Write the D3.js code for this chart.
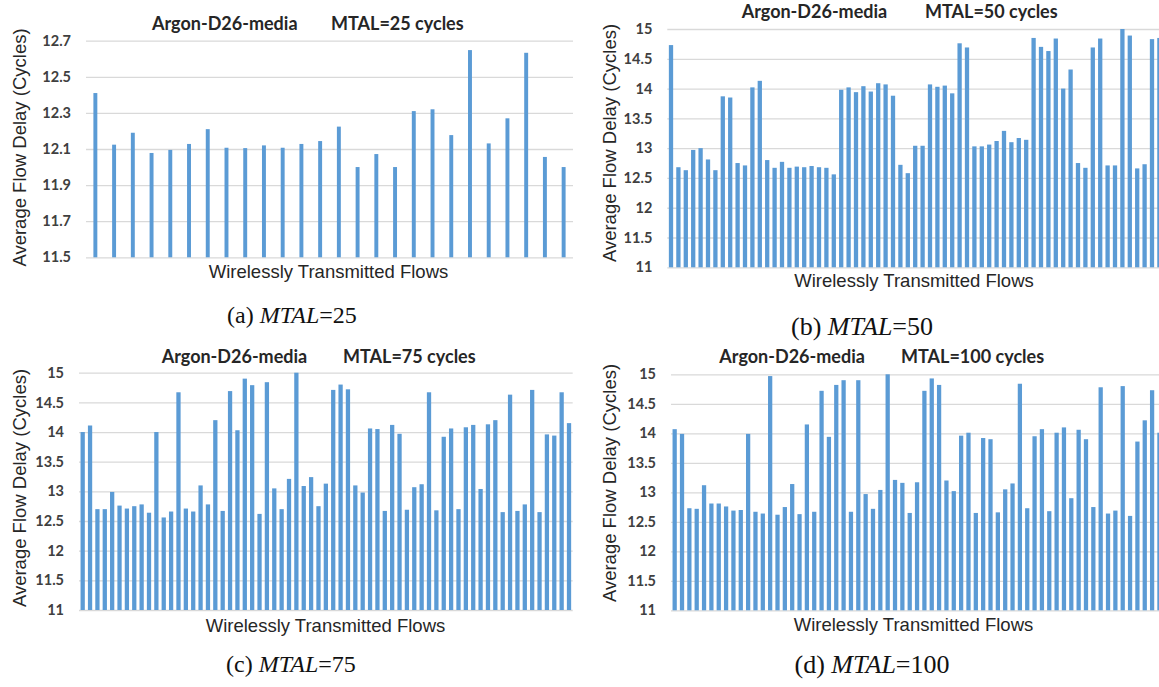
<!DOCTYPE html>
<html>
<head>
<meta charset="utf-8">
<script src="https://cdn.jsdelivr.net/npm/d3@7"></script>
<style>
  html, body { margin: 0; padding: 0; background: #ffffff; }
  svg { display: block; }
</style>
</head>
<body>
<svg id="fig" width="1159" height="687"></svg>
<script>
// Average flow delay of every wirelessly transmitted flow (Argon-D26-media)
// for four MTAL settings, one bar chart per setting.

const benchmarkName = "Argon-D26-media";
const chartTitles = ["MTAL=25 cycles", "MTAL=50 cycles", "MTAL=75 cycles", "MTAL=100 cycles"];
const captionLetters = ["(a)", "(b)", "(c)", "(d)"];
const captionValues = ["=25", "=50", "=75", "=100"];
const yAxisTitle = "Average Flow Delay (Cycles)";
const xAxisTitle = "Wirelessly Transmitted Flows";

const ticksMtal25 = [11.5, 11.7, 11.9, 12.1, 12.3, 12.5, 12.7];
const ticksWide = [11, 11.5, 12, 12.5, 13, 13.5, 14, 14.5, 15];

const delayMtal25 = [
  12.41, 12.124, 12.19, 12.078, 12.095, 12.128, 12.21, 12.107, 12.105, 12.12,
  12.107, 12.128, 12.144, 12.224, 12.0, 12.072, 12.0, 12.31, 12.32, 12.177,
  12.648, 12.131, 12.27, 12.633, 12.056, 12.0
];

const delayMtal50 = [
  14.73, 12.68, 12.63, 12.97, 13.0, 12.81, 12.63, 13.87, 13.85, 12.75,
  12.71, 14.02, 14.13, 12.80, 12.67, 12.77, 12.67, 12.69, 12.68, 12.70,
  12.68, 12.67, 12.56, 13.98, 14.02, 13.94, 14.04, 13.95, 14.09, 14.07,
  13.88, 12.72, 12.58, 13.04, 13.04, 14.07, 14.03, 14.05, 13.92, 14.76,
  14.69, 13.03, 13.03, 13.06, 13.12, 13.29, 13.10, 13.17, 13.14, 14.85,
  14.70, 14.63, 14.84, 14.0, 14.32, 12.75, 12.67, 14.69, 14.84, 12.71,
  12.71, 15.0, 14.89, 12.66, 12.73, 14.83, 14.85
];

const delayMtal75 = [
  14.0, 14.11, 12.70, 12.70, 12.99, 12.76, 12.71, 12.75, 12.78, 12.64,
  14.0, 12.56, 12.66, 14.67, 12.71, 12.66, 13.10, 12.78, 14.20, 12.67,
  14.69, 14.03, 14.90, 14.79, 12.62, 14.84, 13.05, 12.70, 13.21, 15.0,
  13.09, 13.24, 12.75, 13.13, 14.71, 14.80, 14.72, 13.10, 12.98, 14.06,
  14.05, 12.67, 14.12, 13.97, 12.69, 13.07, 13.12, 14.67, 12.68, 13.92,
  14.06, 12.70, 14.08, 14.12, 13.04, 14.13, 14.20, 12.65, 14.63, 12.67,
  12.78, 14.71, 12.65, 13.96, 13.94, 14.67, 14.15
];

const delayMtal100 = [
  14.07, 13.99, 12.73, 12.72, 13.12, 12.81, 12.81, 12.76, 12.69, 12.70,
  13.99, 12.67, 12.64, 14.97, 12.62, 12.75, 13.14, 12.63, 14.15, 12.67,
  14.72, 13.94, 14.82, 14.90, 12.67, 14.90, 12.97, 12.72, 13.04, 15.0,
  13.21, 13.16, 12.65, 13.17, 14.72, 14.93, 14.82, 13.20, 13.02, 13.96,
  14.01, 12.65, 13.92, 13.90, 12.66, 13.05, 13.15, 14.84, 12.73, 13.95,
  14.07, 12.68, 14.01, 14.10, 12.90, 14.06, 13.90, 12.75, 14.78, 12.64,
  12.69, 14.80, 12.60, 13.86, 14.22, 14.73, 14.01
];

// Panel geometry (plot box, label anchors) for the 2x2 arrangement
const panels = [
  { values: delayMtal25, ticks: ticksMtal25, domain: [11.5, 12.7], pad: 0.79,
    left: 86, right: 573, top: 40.7, bottom: 257.3,
    titleY: 30, titleX1: 152, titleX2: 331,
    yTitleX: 26, yTitleY: 147.5, xTitleX: 328.5, xTitleY: 278,
    capX: 292, capY: 323, capSize: 24 },
  { values: delayMtal50, ticks: ticksWide, domain: [11, 15], pad: 0.42,
    left: 667.3, right: 667.3 + 67 * 7.4, top: 29, bottom: 267.3,
    titleY: 18, titleX1: 741.7, titleX2: 925,
    yTitleX: 616, yTitleY: 143, xTitleX: 914, xTitleY: 287,
    capX: 862, capY: 335, capSize: 26 },
  { values: delayMtal75, ticks: ticksWide, domain: [11, 15], pad: 0.42,
    left: 79, right: 572.7, top: 372.7, bottom: 610,
    titleY: 362.5, titleX1: 161.7, titleX2: 343,
    yTitleX: 26, yTitleY: 488, xTitleX: 325.5, xTitleY: 632,
    capX: 291, capY: 672, capSize: 24 },
  { values: delayMtal100, ticks: ticksWide, domain: [11, 15], pad: 0.42,
    left: 671, right: 671 + 67 * 7.345, top: 374.3, bottom: 610.3,
    titleY: 363, titleX1: 719.3, titleX2: 901,
    yTitleX: 616, yTitleY: 483, xTitleX: 913.5, xTitleY: 631,
    capX: 872, capY: 673, capSize: 26 }
];

const svg = d3.select("#fig");
const barColor = "#5b9bd5";
const gridColor = "#d9d9d9";
const labelFont = "Lato, 'Open Sans', sans-serif";
const axisTitleFont = "'Liberation Sans', Arial, sans-serif";
const captionFont = "'Liberation Serif', 'Times New Roman', serif";

panels.forEach((p, k) => {
  const g = svg.append("g");

  const x = d3.scaleBand()
    .domain(d3.range(p.values.length))
    .range([p.left, p.right])
    .paddingInner(p.pad)
    .paddingOuter(p.pad / 2);

  const y = d3.scaleLinear().domain(p.domain).range([p.bottom, p.top]);

  // horizontal gridlines with the value labels
  const axis = d3.axisLeft(y)
    .tickValues(p.ticks)
    .tickSize(-(p.right - p.left))
    .tickPadding(15)
    .tickFormat(d3.format("~g"));

  const ag = g.append("g")
    .attr("transform", `translate(${p.left},0)`)
    .call(axis);
  ag.select(".domain").remove();
  ag.selectAll(".tick line")
    .attr("stroke", gridColor)
    .attr("stroke-width", 1.3);
  ag.selectAll(".tick text")
    .attr("font-family", labelFont)
    .attr("font-weight", "bold")
    .attr("font-size", 14.5)
    .attr("fill", "#404040");

  // bars
  g.append("g").selectAll("rect")
    .data(p.values)
    .join("rect")
    .attr("x", (d, i) => x(i))
    .attr("width", x.bandwidth())
    .attr("y", d => y(d))
    .attr("height", d => y(p.domain[0]) - y(d))
    .attr("fill", barColor);

  // chart title in two parts
  const titleText = g.append("g")
    .attr("font-family", labelFont)
    .attr("font-weight", "bold")
    .attr("font-size", 18)
    .attr("fill", "#262626");
  titleText.append("text").attr("x", p.titleX1).attr("y", p.titleY).text(benchmarkName);
  titleText.append("text").attr("x", p.titleX2).attr("y", p.titleY).text(chartTitles[k]);

  // axis titles
  g.append("text")
    .attr("transform", `translate(${p.yTitleX},${p.yTitleY}) rotate(-90)`)
    .attr("text-anchor", "middle")
    .attr("font-family", axisTitleFont)
    .attr("font-size", 18.5)
    .attr("fill", "#262626")
    .text(yAxisTitle);

  g.append("text")
    .attr("x", p.xTitleX)
    .attr("y", p.xTitleY)
    .attr("text-anchor", "middle")
    .attr("font-family", axisTitleFont)
    .attr("font-size", 18.5)
    .attr("fill", "#262626")
    .text(xAxisTitle);

  // sub-figure caption
  const cap = g.append("text")
    .attr("x", p.capX)
    .attr("y", p.capY)
    .attr("text-anchor", "middle")
    .attr("font-family", captionFont)
    .attr("font-size", p.capSize)
    .attr("fill", "#111");
  cap.append("tspan").text(captionLetters[k] + " ");
  cap.append("tspan").attr("font-style", "italic").text("MTAL");
  cap.append("tspan").text(captionValues[k]);
});
</script>
</body>
</html>
